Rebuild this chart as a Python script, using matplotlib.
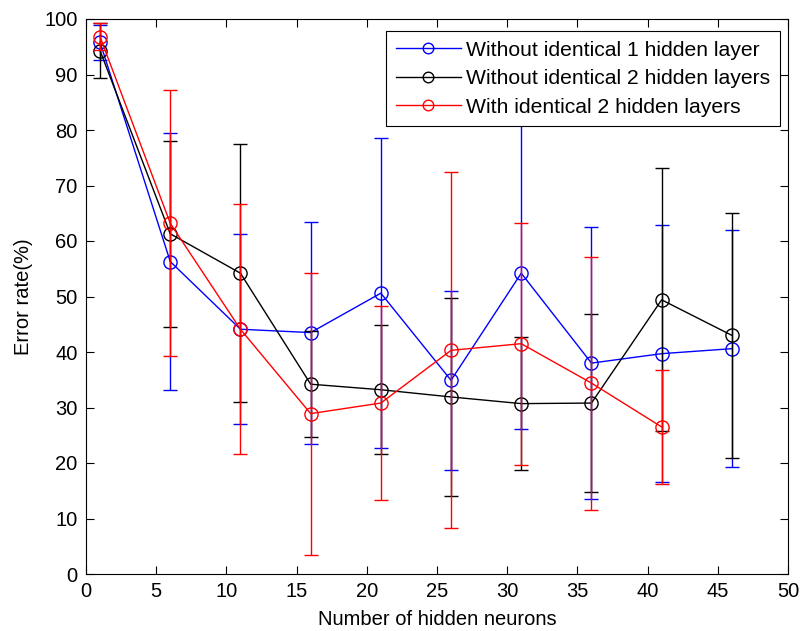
import matplotlib
matplotlib.use("Agg")
import matplotlib.pyplot as plt

plt.rcParams["font.family"] = ["Liberation Sans", "DejaVu Sans"]
plt.rcParams["font.size"] = 14.5

# hidden neuron counts and mean error rate (%) with std per configuration
neurons = [1, 6, 11, 16, 21, 26, 31, 36, 41, 46]

one_layer_mean = [95.8, 56.3, 44.1, 43.5, 50.6, 34.9, 54.2, 38.0, 39.7, 40.6]
one_layer_std = [3.2, 23.2, 17.1, 20.0, 27.9, 16.1, 28.0, 24.5, 23.1, 21.4]

two_layer_mean = [94.3, 61.3, 54.2, 34.2, 33.2, 31.9, 30.7, 30.8, 49.4, 43.0]
two_layer_std = [5.0, 16.8, 23.2, 9.5, 11.6, 17.8, 12.0, 16.1, 23.7, 22.1]

identical_neurons = [1, 6, 11, 16, 21, 26, 31, 36, 41]
identical_mean = [96.8, 63.2, 44.1, 28.9, 30.8, 40.3, 41.5, 34.4, 26.5]
identical_std = [2.4, 24.0, 22.5, 25.4, 17.4, 32.1, 21.8, 22.8, 10.2]

labels = ["Without identical 1 hidden layer",
          "Without identical 2 hidden layers",
          "With identical 2 hidden layers"]

fig = plt.figure(figsize=(8.01, 6.31), dpi=100)
ax = fig.add_axes([86 / 801, 1 - 574 / 631, 702 / 801, 555 / 631])

series = [
    (neurons, one_layer_mean, one_layer_std, "#0000ff"),
    (neurons, two_layer_mean, two_layer_std, "#000000"),
    (identical_neurons, identical_mean, identical_std, "#ff0000"),
]
for (xs, ys, errs, color), label in zip(series, labels):
    ax.errorbar(xs, ys, yerr=errs, fmt="none", ecolor=color,
                elinewidth=1.0, capsize=5, capthick=1.0)
    ax.plot(xs, ys, "-o", color=color, lw=1.0, ms=9.5, mfc="none",
            mec=color, mew=1.0, label=label)

ax.set_xlim(0, 50)
ax.set_ylim(0, 100)
ax.set_xticks(range(0, 51, 5))
ax.set_yticks(range(0, 101, 10))
ax.tick_params(direction="in", length=6, width=0.8, top=True, right=True, pad=6)
for spine in ax.spines.values():
    spine.set_linewidth(0.8)

ax.set_xlabel("Number of hidden neurons", labelpad=6)
ax.set_ylabel("Error rate(%)", labelpad=8)

leg = ax.legend(loc="upper right", bbox_to_anchor=(0.9886, 0.978),
                borderaxespad=0, fancybox=False, framealpha=1,
                edgecolor="black", handlelength=3.1, handletextpad=0.25,
                labelspacing=0.45, borderpad=0.45, markerscale=0.8,
                prop={"size": 15.2})
leg.get_frame().set_linewidth(0.8)

fig.savefig("out.png", dpi=100)
